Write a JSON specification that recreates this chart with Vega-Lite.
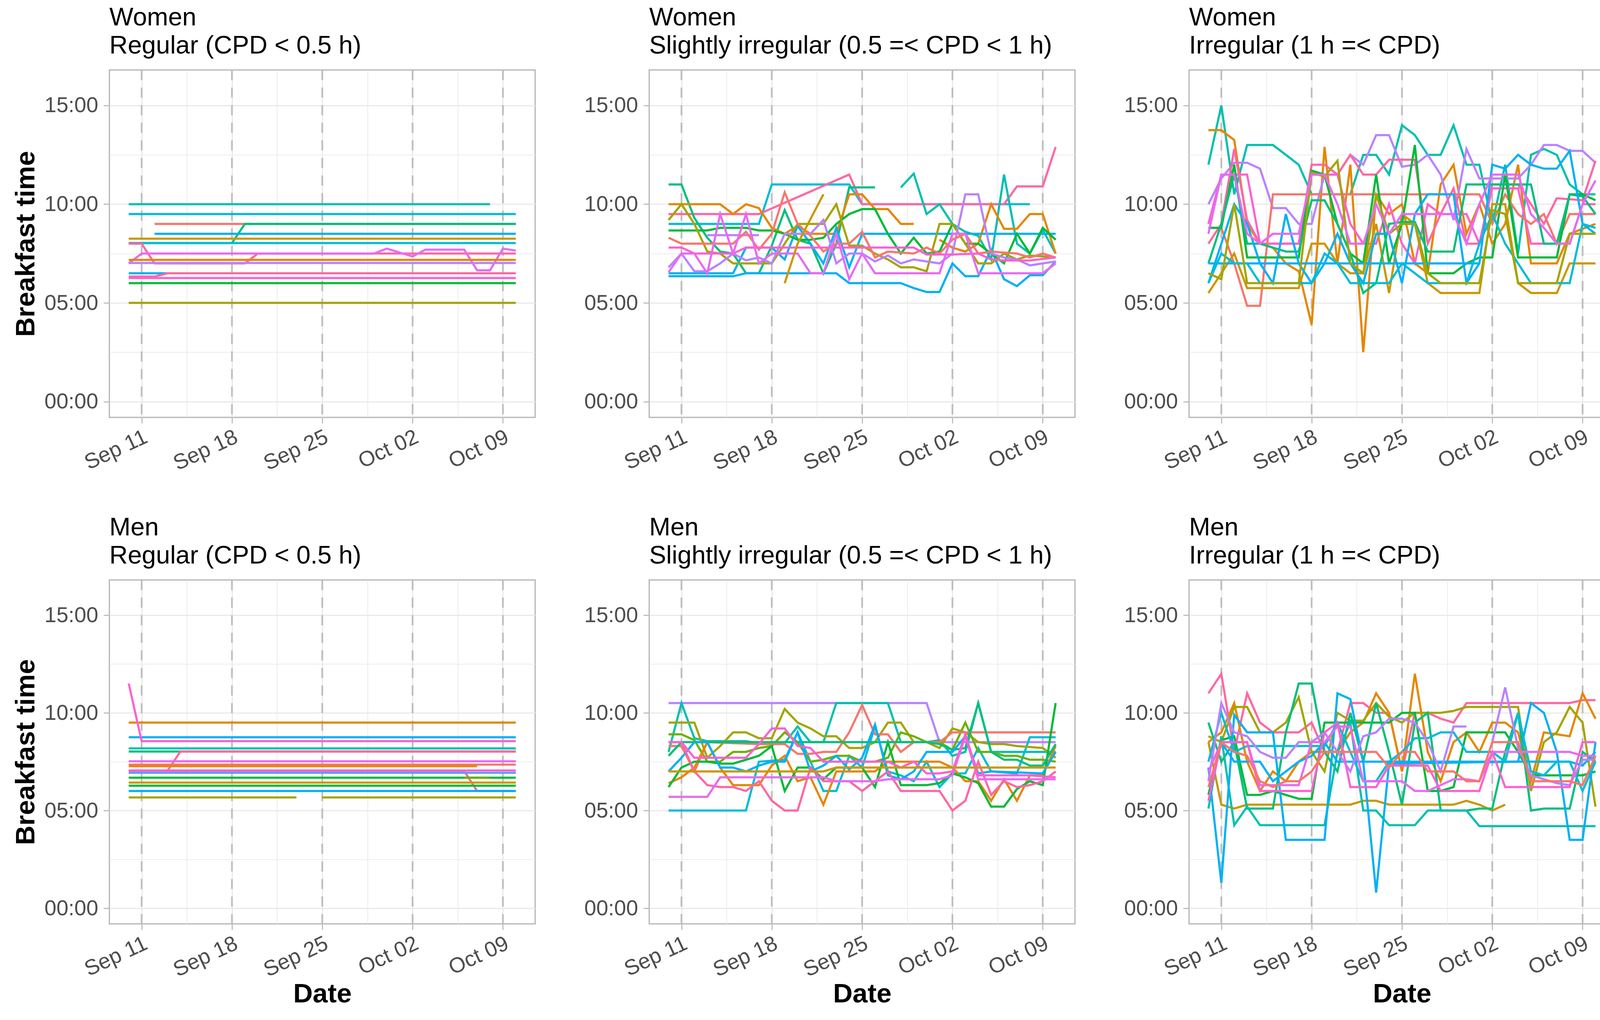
{
  "$schema": "https://vega.github.io/schema/vega-lite/v6.json",
  "background": "white",
  "padding": {"left": 30, "top": 11, "right": 10, "bottom": 10},
  "datasets": {
    "weeks": [{"d": "2023-09-11"}, {"d": "2023-09-18"}, {"d": "2023-09-25"}, {"d": "2023-10-02"}, {"d": "2023-10-09"}],
    "wr": [
      {"s":"h","d":"2023-09-10","t":10},{"s":"h","d":"2023-10-08","t":10},
      {"s":"i","d":"2023-09-10","t":9.5},{"s":"i","d":"2023-10-10","t":9.5},
      {"s":"a","d":"2023-09-12","t":9},{"s":"a","d":"2023-10-10","t":9},
      {"s":"g","d":"2023-09-10","t":8.03},{"s":"g","d":"2023-09-18","t":8.03},{"s":"g","d":"2023-09-19","t":9},{"s":"g","d":"2023-10-10","t":9},
      {"s":"j","d":"2023-09-12","t":8.5},{"s":"j","d":"2023-10-10","t":8.5},
      {"s":"c","d":"2023-09-10","t":8.25},{"s":"c","d":"2023-10-10","t":8.25},
      {"s":"i2","d":"2023-09-10","t":8.03},{"s":"i2","d":"2023-10-10","t":8.03},
      {"s":"o","d":"2023-09-10","t":8},{"s":"o","d":"2023-09-11","t":8},{"s":"o","d":"2023-09-12","t":7},{"s":"o","d":"2023-09-19","t":7},{"s":"o","d":"2023-09-20","t":7.5},{"s":"o","d":"2023-10-10","t":7.5},
      {"s":"m","d":"2023-09-10","t":7},{"s":"m","d":"2023-09-11","t":7.5},{"s":"m","d":"2023-09-29","t":7.5},{"s":"m","d":"2023-09-30","t":7.75},{"s":"m","d":"2023-10-02","t":7.35},{"s":"m","d":"2023-10-03","t":7.7},{"s":"m","d":"2023-10-06","t":7.7},{"s":"m","d":"2023-10-07","t":6.65},{"s":"m","d":"2023-10-08","t":6.65},{"s":"m","d":"2023-10-09","t":7.75},{"s":"m","d":"2023-10-10","t":7.65},
      {"s":"b","d":"2023-09-10","t":7.18},{"s":"b","d":"2023-10-10","t":7.18},
      {"s":"l","d":"2023-09-10","t":7.02},{"s":"l","d":"2023-10-10","t":7.02},
      {"s":"j2","d":"2023-09-10","t":6.5},{"s":"j2","d":"2023-09-13","t":6.5},
      {"s":"o2","d":"2023-09-10","t":6.33},{"s":"o2","d":"2023-09-12","t":6.33},{"s":"o2","d":"2023-09-13","t":6.5},{"s":"o2","d":"2023-10-10","t":6.5},
      {"s":"n","d":"2023-09-10","t":6.26},{"s":"n","d":"2023-10-10","t":6.26},
      {"s":"f","d":"2023-09-10","t":6},{"s":"f","d":"2023-10-10","t":6},
      {"s":"d","d":"2023-09-10","t":5},{"s":"d","d":"2023-10-10","t":5}
    ],
    "mr": [
      {"s":"b","d":"2023-09-10","t":9.5},{"s":"b","d":"2023-10-10","t":9.5},
      {"s":"j","d":"2023-09-10","t":8.75},{"s":"j","d":"2023-10-10","t":8.75},
      {"s":"h","d":"2023-09-10","t":8.18},{"s":"h","d":"2023-10-10","t":8.18},
      {"s":"g","d":"2023-09-10","t":8.02},{"s":"g","d":"2023-10-10","t":8.02},
      {"s":"n","d":"2023-09-10","t":11.5},{"s":"n","d":"2023-09-11","t":8.55},{"s":"n","d":"2023-10-10","t":8.55},
      {"s":"o","d":"2023-09-10","t":7.02},{"s":"o","d":"2023-09-13","t":7.02},{"s":"o","d":"2023-09-14","t":8.02},{"s":"o","d":"2023-10-10","t":8.02},
      {"s":"m","d":"2023-09-10","t":7.52},{"s":"m","d":"2023-10-10","t":7.52},
      {"s":"a","d":"2023-09-10","t":7.35},{"s":"a","d":"2023-10-10","t":7.35},
      {"s":"b2","d":"2023-09-10","t":7.27},{"s":"b2","d":"2023-10-07","t":7.27},
      {"s":"o2","d":"2023-09-10","t":7.02},{"s":"o2","d":"2023-10-06","t":7.02},{"s":"o2","d":"2023-10-07","t":6},{"s":"o2","d":"2023-10-10","t":6},
      {"s":"n2","d":"2023-09-10","t":7.05},{"s":"n2","d":"2023-10-10","t":7.05},
      {"s":"k","d":"2023-09-10","t":6.93},{"s":"k","d":"2023-10-10","t":6.93},
      {"s":"f","d":"2023-09-10","t":6.68},{"s":"f","d":"2023-10-10","t":6.68},
      {"s":"e","d":"2023-10-06","t":6.68},{"s":"e","d":"2023-10-08","t":6.68},
      {"s":"c","d":"2023-09-10","t":6.43},{"s":"c","d":"2023-10-10","t":6.43},
      {"s":"f2","d":"2023-09-10","t":6.27},{"s":"f2","d":"2023-10-10","t":6.27},
      {"s":"j2","d":"2023-09-10","t":6},{"s":"j2","d":"2023-10-10","t":6},
      {"s":"d","d":"2023-09-10","t":5.67},{"s":"d","d":"2023-09-23","t":5.67},
      {"s":"d2","d":"2023-09-25","t":5.67},{"s":"d2","d":"2023-10-10","t":5.67}
    ],
    "ws": [
      {"s":"i","d":"2023-09-10","t":9},{"s":"i","d":"2023-09-17","t":9},{"s":"i","d":"2023-09-18","t":11},{"s":"i","d":"2023-09-24","t":11},{"s":"i","d":"2023-09-25","t":10},{"s":"i","d":"2023-10-08","t":10},
      {"s":"o","d":"2023-09-10","t":9.5},{"s":"o","d":"2023-09-17","t":9.5},{"s":"o","d":"2023-09-24","t":11.5},{"s":"o","d":"2023-09-25","t":10},{"s":"o","d":"2023-10-06","t":10},{"s":"o","d":"2023-10-07","t":10.9},{"s":"o","d":"2023-10-09","t":10.9},{"s":"o","d":"2023-10-10","t":12.9},
      {"s":"g","d":"2023-09-10","t":11},{"s":"g","d":"2023-09-11","t":11},{"s":"g","d":"2023-09-12","t":9.3},{"s":"g","d":"2023-09-13","t":8.3},{"s":"g","d":"2023-09-14","t":7.6},{"s":"g","d":"2023-09-15","t":7.5},{"s":"g","d":"2023-09-16","t":6.5},{"s":"g","d":"2023-09-17","t":6.5},{"s":"g","d":"2023-09-18","t":7.9},{"s":"g","d":"2023-09-19","t":9.7},{"s":"g","d":"2023-09-20","t":8.2},{"s":"g","d":"2023-09-21","t":8},{"s":"g","d":"2023-09-22","t":6.5},{"s":"g","d":"2023-09-23","t":8},{"s":"g","d":"2023-09-24","t":10.85},{"s":"g","d":"2023-09-26","t":10.85},
      {"s":"h","d":"2023-09-28","t":10.85},{"s":"h","d":"2023-09-29","t":11.55},{"s":"h","d":"2023-09-30","t":9.5},{"s":"h","d":"2023-10-01","t":10},{"s":"h","d":"2023-10-02","t":9},{"s":"h","d":"2023-10-03","t":8.6},{"s":"h","d":"2023-10-04","t":8.4},{"s":"h","d":"2023-10-05","t":7.2},{"s":"h","d":"2023-10-06","t":11.5},{"s":"h","d":"2023-10-07","t":8},{"s":"h","d":"2023-10-08","t":7.5},{"s":"h","d":"2023-10-09","t":8.7},{"s":"h","d":"2023-10-10","t":7.5},
      {"s":"b","d":"2023-09-10","t":10},{"s":"b","d":"2023-09-14","t":10},{"s":"b","d":"2023-09-15","t":9.5},{"s":"b","d":"2023-09-16","t":10},{"s":"b","d":"2023-09-17","t":9.8},{"s":"b","d":"2023-09-18","t":8.8},{"s":"b","d":"2023-09-19","t":8.5},{"s":"b","d":"2023-09-20","t":8.9},{"s":"b","d":"2023-09-21","t":8.5},{"s":"b","d":"2023-09-23","t":8.5},{"s":"b","d":"2023-09-24","t":10.5},{"s":"b","d":"2023-09-25","t":10.5},{"s":"b","d":"2023-09-26","t":9.75},{"s":"b","d":"2023-09-27","t":9.75},{"s":"b","d":"2023-09-28","t":9},{"s":"b","d":"2023-09-29","t":9},
      {"s":"b2","d":"2023-10-01","t":8.2},{"s":"b2","d":"2023-10-02","t":7.8},{"s":"b2","d":"2023-10-03","t":7.6},{"s":"b2","d":"2023-10-04","t":8},{"s":"b2","d":"2023-10-05","t":10},{"s":"b2","d":"2023-10-06","t":8.75},{"s":"b2","d":"2023-10-07","t":8.75},{"s":"b2","d":"2023-10-08","t":9.5},{"s":"b2","d":"2023-10-09","t":9.5},{"s":"b2","d":"2023-10-10","t":7.5},
      {"s":"j","d":"2023-09-10","t":6.35},{"s":"j","d":"2023-09-15","t":6.35},{"s":"j","d":"2023-09-16","t":6.5},{"s":"j","d":"2023-09-23","t":6.5},{"s":"j","d":"2023-09-24","t":6},{"s":"j","d":"2023-09-28","t":6},{"s":"j","d":"2023-09-29","t":5.75},{"s":"j","d":"2023-09-30","t":5.55},{"s":"j","d":"2023-10-01","t":5.55},{"s":"j","d":"2023-10-02","t":7},{"s":"j","d":"2023-10-03","t":6.35},{"s":"j","d":"2023-10-04","t":6.35},{"s":"j","d":"2023-10-05","t":7.7},{"s":"j","d":"2023-10-06","t":6.2},{"s":"j","d":"2023-10-07","t":5.85},{"s":"j","d":"2023-10-08","t":6.4},{"s":"j","d":"2023-10-09","t":6.4},{"s":"j","d":"2023-10-10","t":7.1},
      {"s":"j2","d":"2023-09-10","t":6.5},{"s":"j2","d":"2023-09-15","t":6.5},{"s":"j2","d":"2023-09-16","t":7.8},{"s":"j2","d":"2023-09-18","t":7.8},{"s":"j2","d":"2023-09-19","t":7.2},{"s":"j2","d":"2023-09-20","t":8.9},{"s":"j2","d":"2023-09-21","t":8},{"s":"j2","d":"2023-09-22","t":7},{"s":"j2","d":"2023-09-23","t":8.8},{"s":"j2","d":"2023-09-24","t":6.8},{"s":"j2","d":"2023-09-25","t":8.5},{"s":"j2","d":"2023-10-10","t":8.5},
      {"s":"f","d":"2023-09-10","t":8.67},{"s":"f","d":"2023-09-13","t":8.67},{"s":"f","d":"2023-09-14","t":8.8},{"s":"f","d":"2023-09-16","t":8.8},{"s":"f","d":"2023-09-17","t":8.67},{"s":"f","d":"2023-09-18","t":8.67},{"s":"f","d":"2023-09-19","t":8.5},{"s":"f","d":"2023-09-20","t":8.2},{"s":"f","d":"2023-09-21","t":8.2},{"s":"f","d":"2023-09-22","t":8.3},{"s":"f","d":"2023-09-23","t":9},{"s":"f","d":"2023-09-24","t":9.5},{"s":"f","d":"2023-09-25","t":9.75},{"s":"f","d":"2023-09-26","t":9.75},{"s":"f","d":"2023-09-27","t":8.5},{"s":"f","d":"2023-09-28","t":7.5},{"s":"f","d":"2023-09-29","t":8.3},{"s":"f","d":"2023-09-30","t":7.5},{"s":"f","d":"2023-10-01","t":7.6},{"s":"f","d":"2023-10-02","t":9},{"s":"f","d":"2023-10-03","t":8},{"s":"f","d":"2023-10-04","t":8},{"s":"f","d":"2023-10-05","t":7.5},{"s":"f","d":"2023-10-06","t":7},{"s":"f","d":"2023-10-07","t":8.5},{"s":"f","d":"2023-10-08","t":7.5},{"s":"f","d":"2023-10-09","t":8.8},{"s":"f","d":"2023-10-10","t":8.2},
      {"s":"d","d":"2023-09-10","t":9.2},{"s":"d","d":"2023-09-11","t":10},{"s":"d","d":"2023-09-12","t":9},{"s":"d","d":"2023-09-13","t":7.6},{"s":"d","d":"2023-09-14","t":7.5},{"s":"d","d":"2023-09-15","t":7},{"s":"d","d":"2023-09-18","t":7},{"s":"d","d":"2023-09-19","t":8},{"s":"d","d":"2023-09-20","t":9},{"s":"d","d":"2023-09-22","t":9},{"s":"d","d":"2023-09-23","t":10},{"s":"d","d":"2023-09-24","t":7.9},{"s":"d","d":"2023-09-25","t":7.9},{"s":"d","d":"2023-09-26","t":7.5},{"s":"d","d":"2023-09-27","t":7.2},{"s":"d","d":"2023-09-28","t":6.8},{"s":"d","d":"2023-09-29","t":6.8},{"s":"d","d":"2023-09-30","t":6.6},{"s":"d","d":"2023-10-01","t":9},{"s":"d","d":"2023-10-02","t":9},{"s":"d","d":"2023-10-03","t":8},{"s":"d","d":"2023-10-04","t":7},{"s":"d","d":"2023-10-05","t":7},{"s":"d","d":"2023-10-06","t":7.5},{"s":"d","d":"2023-10-07","t":7.2},{"s":"d","d":"2023-10-08","t":7.4},{"s":"d","d":"2023-10-10","t":7.3},
      {"s":"l","d":"2023-09-10","t":6.8},{"s":"l","d":"2023-09-11","t":7.5},{"s":"l","d":"2023-09-12","t":6.6},{"s":"l","d":"2023-09-13","t":6.6},{"s":"l","d":"2023-09-14","t":7},{"s":"l","d":"2023-09-15","t":7.5},{"s":"l","d":"2023-09-16","t":7.15},{"s":"l","d":"2023-09-17","t":7.3},{"s":"l","d":"2023-09-18","t":7},{"s":"l","d":"2023-09-19","t":8.5},{"s":"l","d":"2023-09-21","t":8.5},{"s":"l","d":"2023-09-22","t":9.2},{"s":"l","d":"2023-09-23","t":7},{"s":"l","d":"2023-09-24","t":7.5},{"s":"l","d":"2023-09-25","t":7.5},{"s":"l","d":"2023-09-26","t":7.1},{"s":"l","d":"2023-09-27","t":7.4},{"s":"l","d":"2023-09-28","t":7},{"s":"l","d":"2023-09-29","t":7.2},{"s":"l","d":"2023-09-30","t":7.1},{"s":"l","d":"2023-10-01","t":7},{"s":"l","d":"2023-10-02","t":7.5},{"s":"l","d":"2023-10-03","t":10.5},{"s":"l","d":"2023-10-04","t":10.5},{"s":"l","d":"2023-10-05","t":7.5},{"s":"l","d":"2023-10-06","t":7.3},{"s":"l","d":"2023-10-07","t":7.2},{"s":"l","d":"2023-10-08","t":6.9},{"s":"l","d":"2023-10-09","t":7},{"s":"l","d":"2023-10-10","t":7.1},
      {"s":"l2","d":"2023-09-13","t":8.43},{"s":"l2","d":"2023-09-17","t":8.43},
      {"s":"a","d":"2023-09-10","t":8.3},{"s":"a","d":"2023-09-11","t":8},{"s":"a","d":"2023-09-15","t":8},{"s":"a","d":"2023-09-16","t":8.6},{"s":"a","d":"2023-09-17","t":7.7},{"s":"a","d":"2023-09-18","t":8.5},{"s":"a","d":"2023-09-19","t":10.6},{"s":"a","d":"2023-09-20","t":9},{"s":"a","d":"2023-09-21","t":8.4},{"s":"a","d":"2023-09-22","t":7.6},{"s":"a","d":"2023-09-23","t":8},{"s":"a","d":"2023-09-24","t":8},{"s":"a","d":"2023-09-25","t":8.6},{"s":"a","d":"2023-09-26","t":7.3},{"s":"a","d":"2023-09-27","t":7.6},{"s":"a","d":"2023-09-29","t":7.5},{"s":"a","d":"2023-09-30","t":7.8},{"s":"a","d":"2023-10-01","t":7.5},{"s":"a","d":"2023-10-02","t":8.2},{"s":"a","d":"2023-10-03","t":8.5},{"s":"a","d":"2023-10-04","t":7.5},{"s":"a","d":"2023-10-05","t":7.6},{"s":"a","d":"2023-10-07","t":7.5},{"s":"a","d":"2023-10-08","t":7.3},{"s":"a","d":"2023-10-09","t":7.5},{"s":"a","d":"2023-10-10","t":7.3},
      {"s":"n","d":"2023-09-10","t":7.8},{"s":"n","d":"2023-09-11","t":7.8},{"s":"n","d":"2023-09-12","t":7.5},{"s":"n","d":"2023-09-15","t":7.5},{"s":"n","d":"2023-09-16","t":7.8},{"s":"n","d":"2023-09-29","t":7.8},{"s":"n","d":"2023-09-30","t":7.45},{"s":"n","d":"2023-10-02","t":7.45},{"s":"n","d":"2023-10-04","t":7.5},{"s":"n","d":"2023-10-05","t":7.2},{"s":"n","d":"2023-10-06","t":7.15},{"s":"n","d":"2023-10-08","t":7.15},{"s":"n","d":"2023-10-10","t":7.3},
      {"s":"m","d":"2023-09-10","t":6.55},{"s":"m","d":"2023-09-11","t":7.5},{"s":"m","d":"2023-09-12","t":7.5},{"s":"m","d":"2023-09-13","t":6.5},{"s":"m","d":"2023-09-14","t":9.5},{"s":"m","d":"2023-09-15","t":7.5},{"s":"m","d":"2023-09-16","t":9.5},{"s":"m","d":"2023-09-17","t":7},{"s":"m","d":"2023-09-18","t":7.5},{"s":"m","d":"2023-09-20","t":7.5},{"s":"m","d":"2023-09-21","t":6.5},{"s":"m","d":"2023-09-22","t":6.5},{"s":"m","d":"2023-09-23","t":8.5},{"s":"m","d":"2023-09-24","t":6.2},{"s":"m","d":"2023-09-25","t":7.5},{"s":"m","d":"2023-09-26","t":6.5},{"s":"m","d":"2023-10-01","t":6.5},{"s":"m","d":"2023-10-02","t":8.5},{"s":"m","d":"2023-10-03","t":8.5},{"s":"m","d":"2023-10-04","t":6.5},{"s":"m","d":"2023-10-09","t":6.5},{"s":"m","d":"2023-10-10","t":7},
      {"s":"c","d":"2023-09-19","t":6},{"s":"c","d":"2023-09-20","t":8},{"s":"c","d":"2023-09-22","t":10.5}
    ],
    "ms": [
      {"s":"l","d":"2023-09-10","t":10.5},{"s":"l","d":"2023-09-30","t":10.5},{"s":"l","d":"2023-10-01","t":8.5},{"s":"l","d":"2023-10-10","t":8.5},
      {"s":"h","d":"2023-09-10","t":8},{"s":"h","d":"2023-09-11","t":10.5},{"s":"h","d":"2023-09-12","t":8.7},{"s":"h","d":"2023-09-13","t":8.55},{"s":"h","d":"2023-09-16","t":8.55},{"s":"h","d":"2023-09-17","t":8.45},{"s":"h","d":"2023-09-19","t":8.45},{"s":"h","d":"2023-09-20","t":9.3},{"s":"h","d":"2023-09-21","t":8.5},{"s":"h","d":"2023-09-22","t":8.5},{"s":"h","d":"2023-09-23","t":10.5},{"s":"h","d":"2023-09-27","t":10.5},{"s":"h","d":"2023-09-28","t":8.5},{"s":"h","d":"2023-09-30","t":8.5},{"s":"h","d":"2023-10-01","t":8.6},{"s":"h","d":"2023-10-02","t":7.8},{"s":"h","d":"2023-10-03","t":8},{"s":"h","d":"2023-10-04","t":10.5},{"s":"h","d":"2023-10-05","t":8},{"s":"h","d":"2023-10-10","t":8},
      {"s":"i","d":"2023-09-10","t":5},{"s":"i","d":"2023-09-16","t":5},{"s":"i","d":"2023-09-17","t":7.5},{"s":"i","d":"2023-09-19","t":7.6},{"s":"i","d":"2023-09-20","t":9},{"s":"i","d":"2023-09-21","t":7.5},{"s":"i","d":"2023-09-22","t":6},{"s":"i","d":"2023-09-23","t":6},{"s":"i","d":"2023-09-24","t":7.8},{"s":"i","d":"2023-09-25","t":7.2},{"s":"i","d":"2023-09-26","t":9.3},{"s":"i","d":"2023-09-27","t":7},{"s":"i","d":"2023-09-28","t":6.8},{"s":"i","d":"2023-09-29","t":6.5},{"s":"i","d":"2023-09-30","t":7.5},{"s":"i","d":"2023-10-01","t":6.2},{"s":"i","d":"2023-10-02","t":6.9},{"s":"i","d":"2023-10-03","t":6.9},{"s":"i","d":"2023-10-04","t":8.2},{"s":"i","d":"2023-10-05","t":7},{"s":"i","d":"2023-10-07","t":6.9},{"s":"i","d":"2023-10-08","t":8.75},{"s":"i","d":"2023-10-10","t":8.75},
      {"s":"d","d":"2023-09-10","t":9.5},{"s":"d","d":"2023-09-12","t":9.5},{"s":"d","d":"2023-09-13","t":7.7},{"s":"d","d":"2023-09-14","t":8.3},{"s":"d","d":"2023-09-15","t":9},{"s":"d","d":"2023-09-16","t":9},{"s":"d","d":"2023-09-17","t":8.7},{"s":"d","d":"2023-09-18","t":8.7},{"s":"d","d":"2023-09-19","t":10.2},{"s":"d","d":"2023-09-20","t":9.5},{"s":"d","d":"2023-09-21","t":9.2},{"s":"d","d":"2023-09-22","t":8.8},{"s":"d","d":"2023-09-23","t":8.8},{"s":"d","d":"2023-09-24","t":8.2},{"s":"d","d":"2023-09-25","t":8.2},{"s":"d","d":"2023-09-26","t":8.5},{"s":"d","d":"2023-09-27","t":9.5},{"s":"d","d":"2023-09-28","t":9.5},{"s":"d","d":"2023-09-29","t":8.5},{"s":"d","d":"2023-09-30","t":8.5},{"s":"d","d":"2023-10-01","t":8.2},{"s":"d","d":"2023-10-02","t":9.2},{"s":"d","d":"2023-10-03","t":9},{"s":"d","d":"2023-10-04","t":8.5},{"s":"d","d":"2023-10-05","t":8.4},{"s":"d","d":"2023-10-06","t":8.4},{"s":"d","d":"2023-10-07","t":8.3},{"s":"d","d":"2023-10-09","t":8.2},{"s":"d","d":"2023-10-10","t":7.7},
      {"s":"e","d":"2023-09-10","t":8.9},{"s":"e","d":"2023-09-11","t":8.9},{"s":"e","d":"2023-09-12","t":8.6},{"s":"e","d":"2023-09-13","t":7.5},{"s":"e","d":"2023-09-14","t":7.5},{"s":"e","d":"2023-09-15","t":8},{"s":"e","d":"2023-09-16","t":8},{"s":"e","d":"2023-09-17","t":8.2},{"s":"e","d":"2023-09-18","t":8.3},{"s":"e","d":"2023-09-19","t":9},{"s":"e","d":"2023-09-20","t":8.5},{"s":"e","d":"2023-09-21","t":7.5},{"s":"e","d":"2023-09-22","t":7.6},{"s":"e","d":"2023-09-23","t":7.8},{"s":"e","d":"2023-09-24","t":7.8},{"s":"e","d":"2023-09-25","t":7.5},{"s":"e","d":"2023-09-26","t":7.5},{"s":"e","d":"2023-09-27","t":7.7},{"s":"e","d":"2023-09-28","t":9},{"s":"e","d":"2023-09-29","t":8.8},{"s":"e","d":"2023-09-30","t":8.5},{"s":"e","d":"2023-10-01","t":8.5},{"s":"e","d":"2023-10-02","t":8.1},{"s":"e","d":"2023-10-03","t":9.5},{"s":"e","d":"2023-10-04","t":8},{"s":"e","d":"2023-10-05","t":8},{"s":"e","d":"2023-10-06","t":7.8},{"s":"e","d":"2023-10-07","t":7.8},{"s":"e","d":"2023-10-08","t":7.6},{"s":"e","d":"2023-10-09","t":7.6},{"s":"e","d":"2023-10-10","t":7.5},
      {"s":"a","d":"2023-09-10","t":8.3},{"s":"a","d":"2023-09-11","t":8.3},{"s":"a","d":"2023-09-12","t":7},{"s":"a","d":"2023-09-13","t":8.5},{"s":"a","d":"2023-09-17","t":8.4},{"s":"a","d":"2023-09-19","t":8.4},{"s":"a","d":"2023-09-20","t":7.9},{"s":"a","d":"2023-09-21","t":7.9},{"s":"a","d":"2023-09-22","t":8},{"s":"a","d":"2023-09-23","t":8},{"s":"a","d":"2023-09-24","t":9},{"s":"a","d":"2023-09-25","t":10.4},{"s":"a","d":"2023-09-26","t":8.9},{"s":"a","d":"2023-09-27","t":8.9},{"s":"a","d":"2023-09-28","t":8},{"s":"a","d":"2023-09-29","t":8.5},{"s":"a","d":"2023-10-01","t":8.5},{"s":"a","d":"2023-10-02","t":9},{"s":"a","d":"2023-10-10","t":9},
      {"s":"b","d":"2023-09-10","t":6.4},{"s":"b","d":"2023-09-11","t":6.7},{"s":"b","d":"2023-09-12","t":7.2},{"s":"b","d":"2023-09-13","t":8.5},{"s":"b","d":"2023-09-14","t":7.2},{"s":"b","d":"2023-09-15","t":6.3},{"s":"b","d":"2023-09-17","t":6.3},{"s":"b","d":"2023-09-18","t":7.3},{"s":"b","d":"2023-09-19","t":7.8},{"s":"b","d":"2023-09-20","t":6.5},{"s":"b","d":"2023-09-21","t":6.7},{"s":"b","d":"2023-09-22","t":5.3},{"s":"b","d":"2023-09-23","t":7},{"s":"b","d":"2023-09-26","t":7},{"s":"b","d":"2023-09-27","t":7.5},{"s":"b","d":"2023-10-01","t":7.5},{"s":"b","d":"2023-10-02","t":7.2},{"s":"b","d":"2023-10-03","t":6.5},{"s":"b","d":"2023-10-04","t":6.5},{"s":"b","d":"2023-10-05","t":5.5},{"s":"b","d":"2023-10-06","t":6.6},{"s":"b","d":"2023-10-07","t":5.5},{"s":"b","d":"2023-10-08","t":6.8},{"s":"b","d":"2023-10-09","t":6.8},{"s":"b","d":"2023-10-10","t":8.3},
      {"s":"f","d":"2023-09-10","t":6.2},{"s":"f","d":"2023-09-11","t":7.2},{"s":"f","d":"2023-09-12","t":7.5},{"s":"f","d":"2023-09-13","t":7.5},{"s":"f","d":"2023-09-14","t":7.4},{"s":"f","d":"2023-09-15","t":7.4},{"s":"f","d":"2023-09-16","t":7.6},{"s":"f","d":"2023-09-17","t":7.8},{"s":"f","d":"2023-09-18","t":8.3},{"s":"f","d":"2023-09-19","t":6},{"s":"f","d":"2023-09-20","t":7.2},{"s":"f","d":"2023-09-21","t":7.2},{"s":"f","d":"2023-09-22","t":6.6},{"s":"f","d":"2023-09-23","t":7.2},{"s":"f","d":"2023-09-25","t":7.2},{"s":"f","d":"2023-09-26","t":6.2},{"s":"f","d":"2023-09-27","t":8.5},{"s":"f","d":"2023-09-28","t":6.3},{"s":"f","d":"2023-09-30","t":6.3},{"s":"f","d":"2023-10-01","t":6.4},{"s":"f","d":"2023-10-02","t":6.9},{"s":"f","d":"2023-10-03","t":6.7},{"s":"f","d":"2023-10-04","t":6.4},{"s":"f","d":"2023-10-05","t":5.2},{"s":"f","d":"2023-10-06","t":5.2},{"s":"f","d":"2023-10-07","t":6.1},{"s":"f","d":"2023-10-08","t":6.5},{"s":"f","d":"2023-10-09","t":6.3},{"s":"f","d":"2023-10-10","t":10.5},
      {"s":"g","d":"2023-09-10","t":7.8},{"s":"g","d":"2023-09-11","t":8.5},{"s":"g","d":"2023-09-30","t":8.5},{"s":"g","d":"2023-10-01","t":8.4},{"s":"g","d":"2023-10-02","t":8.1},{"s":"g","d":"2023-10-03","t":8.2},{"s":"g","d":"2023-10-04","t":10.5},{"s":"g","d":"2023-10-05","t":8},{"s":"g","d":"2023-10-06","t":7.6},{"s":"g","d":"2023-10-07","t":7.6},{"s":"g","d":"2023-10-08","t":7.3},{"s":"g","d":"2023-10-09","t":7.3},{"s":"g","d":"2023-10-10","t":8.4},
      {"s":"j","d":"2023-09-10","t":7},{"s":"j","d":"2023-09-11","t":7.7},{"s":"j","d":"2023-09-12","t":8.5},{"s":"j","d":"2023-09-13","t":8.5},{"s":"j","d":"2023-09-14","t":7.2},{"s":"j","d":"2023-09-15","t":7.2},{"s":"j","d":"2023-09-16","t":7},{"s":"j","d":"2023-09-17","t":7.3},{"s":"j","d":"2023-09-18","t":7.5},{"s":"j","d":"2023-09-19","t":7.5},{"s":"j","d":"2023-09-20","t":9},{"s":"j","d":"2023-09-21","t":7},{"s":"j","d":"2023-09-22","t":7.3},{"s":"j","d":"2023-09-23","t":7.8},{"s":"j","d":"2023-09-24","t":7.1},{"s":"j","d":"2023-09-25","t":7.7},{"s":"j","d":"2023-09-26","t":9.4},{"s":"j","d":"2023-09-27","t":6.8},{"s":"j","d":"2023-09-28","t":6.6},{"s":"j","d":"2023-09-29","t":7},{"s":"j","d":"2023-09-30","t":8},{"s":"j","d":"2023-10-02","t":8},{"s":"j","d":"2023-10-03","t":8.8},{"s":"j","d":"2023-10-04","t":6.9},{"s":"j","d":"2023-10-05","t":7},{"s":"j","d":"2023-10-09","t":6.9},{"s":"j","d":"2023-10-10","t":8},
      {"s":"o","d":"2023-09-10","t":8.5},{"s":"o","d":"2023-09-11","t":8.5},{"s":"o","d":"2023-09-12","t":7},{"s":"o","d":"2023-09-13","t":6.3},{"s":"o","d":"2023-09-14","t":6.2},{"s":"o","d":"2023-09-15","t":6.2},{"s":"o","d":"2023-09-16","t":6},{"s":"o","d":"2023-09-17","t":6.5},{"s":"o","d":"2023-09-18","t":5.5},{"s":"o","d":"2023-09-19","t":5},{"s":"o","d":"2023-09-20","t":5},{"s":"o","d":"2023-09-21","t":7.2},{"s":"o","d":"2023-09-22","t":6.5},{"s":"o","d":"2023-09-24","t":6.5},{"s":"o","d":"2023-09-25","t":6},{"s":"o","d":"2023-09-26","t":6.5},{"s":"o","d":"2023-09-27","t":7},{"s":"o","d":"2023-09-28","t":6},{"s":"o","d":"2023-10-01","t":6},{"s":"o","d":"2023-10-02","t":5},{"s":"o","d":"2023-10-03","t":5.5},{"s":"o","d":"2023-10-04","t":7.5},{"s":"o","d":"2023-10-05","t":5.8},{"s":"o","d":"2023-10-06","t":6.5},{"s":"o","d":"2023-10-07","t":6.2},{"s":"o","d":"2023-10-08","t":6.3},{"s":"o","d":"2023-10-09","t":6.5},{"s":"o","d":"2023-10-10","t":7},
      {"s":"m","d":"2023-09-10","t":5.7},{"s":"m","d":"2023-09-13","t":5.7},{"s":"m","d":"2023-09-14","t":6.7},{"s":"m","d":"2023-09-22","t":6.7},{"s":"m","d":"2023-09-23","t":6.5},{"s":"m","d":"2023-09-26","t":6.5},{"s":"m","d":"2023-09-27","t":6.6},{"s":"m","d":"2023-10-01","t":6.6},{"s":"m","d":"2023-10-02","t":6.8},{"s":"m","d":"2023-10-03","t":8.8},{"s":"m","d":"2023-10-04","t":6.6},{"s":"m","d":"2023-10-10","t":6.6},
      {"s":"n","d":"2023-09-10","t":8.5},{"s":"n","d":"2023-09-11","t":8.5},{"s":"n","d":"2023-09-12","t":7.7},{"s":"n","d":"2023-09-16","t":7.7},{"s":"n","d":"2023-09-17","t":8.4},{"s":"n","d":"2023-09-18","t":9.2},{"s":"n","d":"2023-09-19","t":9.2},{"s":"n","d":"2023-09-20","t":8.3},{"s":"n","d":"2023-09-21","t":8.2},{"s":"n","d":"2023-09-22","t":7.5},{"s":"n","d":"2023-09-27","t":7.5},{"s":"n","d":"2023-09-28","t":7.2},{"s":"n","d":"2023-09-29","t":7.5},{"s":"n","d":"2023-09-30","t":6.9},{"s":"n","d":"2023-10-01","t":6.9},{"s":"n","d":"2023-10-02","t":7},{"s":"n","d":"2023-10-03","t":8.9},{"s":"n","d":"2023-10-04","t":6.8},{"s":"n","d":"2023-10-08","t":6.8},{"s":"n","d":"2023-10-10","t":6.7},
      {"s":"c","d":"2023-09-10","t":7},{"s":"c","d":"2023-09-22","t":7},{"s":"c","d":"2023-09-23","t":7.2},{"s":"c","d":"2023-10-10","t":7.2}
    ],
    "wi": [
      {"s":"h","d":"2023-09-10","t":12},{"s":"h","d":"2023-09-11","t":15},{"s":"h","d":"2023-09-12","t":10.5},{"s":"h","d":"2023-09-13","t":13},{"s":"h","d":"2023-09-15","t":13},{"s":"h","d":"2023-09-17","t":12},{"s":"h","d":"2023-09-18","t":10.5},{"s":"h","d":"2023-09-21","t":10.5},{"s":"h","d":"2023-09-22","t":12.5},{"s":"h","d":"2023-09-23","t":12.5},{"s":"h","d":"2023-09-24","t":11.5},{"s":"h","d":"2023-09-25","t":14},{"s":"h","d":"2023-09-26","t":13.5},{"s":"h","d":"2023-09-27","t":12.5},{"s":"h","d":"2023-09-28","t":12.5},{"s":"h","d":"2023-09-29","t":14},{"s":"h","d":"2023-09-30","t":12},{"s":"h","d":"2023-10-01","t":12},{"s":"h","d":"2023-10-02","t":9},{"s":"h","d":"2023-10-03","t":12},{"s":"h","d":"2023-10-04","t":7.5},{"s":"h","d":"2023-10-05","t":12.5},{"s":"h","d":"2023-10-06","t":12.8},{"s":"h","d":"2023-10-07","t":12.5},{"s":"h","d":"2023-10-08","t":11},{"s":"h","d":"2023-10-09","t":10.5},{"s":"h","d":"2023-10-10","t":10.5},
      {"s":"b","d":"2023-09-10","t":13.75},{"s":"b","d":"2023-09-11","t":13.75},{"s":"b","d":"2023-09-12","t":13.25},{"s":"b","d":"2023-09-13","t":9},{"s":"b","d":"2023-09-14","t":8},{"s":"b","d":"2023-09-15","t":7.8},{"s":"b","d":"2023-09-16","t":7},{"s":"b","d":"2023-09-17","t":6.6},{"s":"b","d":"2023-09-18","t":3.9},{"s":"b","d":"2023-09-19","t":12.9},{"s":"b","d":"2023-09-20","t":7},{"s":"b","d":"2023-09-21","t":12},{"s":"b","d":"2023-09-22","t":2.5},{"s":"b","d":"2023-09-23","t":10.5},{"s":"b","d":"2023-09-24","t":9.5},{"s":"b","d":"2023-09-25","t":10},{"s":"b","d":"2023-09-26","t":7},{"s":"b","d":"2023-09-27","t":6.5},{"s":"b","d":"2023-09-28","t":11},{"s":"b","d":"2023-09-29","t":12},{"s":"b","d":"2023-09-30","t":8.5},{"s":"b","d":"2023-10-01","t":10},{"s":"b","d":"2023-10-02","t":8},{"s":"b","d":"2023-10-03","t":9},{"s":"b","d":"2023-10-04","t":12},{"s":"b","d":"2023-10-05","t":7},{"s":"b","d":"2023-10-07","t":7},{"s":"b","d":"2023-10-08","t":8.5},{"s":"b","d":"2023-10-10","t":9},
      {"s":"l","d":"2023-09-10","t":10},{"s":"l","d":"2023-09-11","t":11.3},{"s":"l","d":"2023-09-12","t":12.1},{"s":"l","d":"2023-09-13","t":12.1},{"s":"l","d":"2023-09-14","t":11.8},{"s":"l","d":"2023-09-15","t":9.8},{"s":"l","d":"2023-09-16","t":9.8},{"s":"l","d":"2023-09-17","t":9},{"s":"l","d":"2023-09-18","t":9},{"s":"l","d":"2023-09-19","t":11.5},{"s":"l","d":"2023-09-20","t":11.5},{"s":"l","d":"2023-09-21","t":12.5},{"s":"l","d":"2023-09-22","t":12},{"s":"l","d":"2023-09-23","t":13.5},{"s":"l","d":"2023-09-24","t":13.5},{"s":"l","d":"2023-09-25","t":11.9},{"s":"l","d":"2023-09-26","t":12},{"s":"l","d":"2023-09-27","t":12.5},{"s":"l","d":"2023-09-28","t":11.5},{"s":"l","d":"2023-09-29","t":9.2},{"s":"l","d":"2023-09-30","t":12.8},{"s":"l","d":"2023-10-01","t":11.3},{"s":"l","d":"2023-10-04","t":11.3},{"s":"l","d":"2023-10-05","t":12},{"s":"l","d":"2023-10-06","t":13},{"s":"l","d":"2023-10-07","t":13},{"s":"l","d":"2023-10-08","t":12.7},{"s":"l","d":"2023-10-09","t":12.7},{"s":"l","d":"2023-10-10","t":12.1},
      {"s":"o","d":"2023-09-10","t":8},{"s":"o","d":"2023-09-11","t":9},{"s":"o","d":"2023-09-12","t":12.8},{"s":"o","d":"2023-09-13","t":9.2},{"s":"o","d":"2023-09-14","t":8},{"s":"o","d":"2023-09-17","t":8},{"s":"o","d":"2023-09-18","t":12},{"s":"o","d":"2023-09-19","t":12},{"s":"o","d":"2023-09-20","t":11.5},{"s":"o","d":"2023-09-21","t":12.5},{"s":"o","d":"2023-09-22","t":11.5},{"s":"o","d":"2023-09-23","t":11.5},{"s":"o","d":"2023-09-24","t":12.25},{"s":"o","d":"2023-09-26","t":12.25},{"s":"o","d":"2023-09-27","t":8},{"s":"o","d":"2023-09-28","t":9.5},{"s":"o","d":"2023-09-29","t":10.8},{"s":"o","d":"2023-09-30","t":8},{"s":"o","d":"2023-10-01","t":8},{"s":"o","d":"2023-10-02","t":11},{"s":"o","d":"2023-10-04","t":11},{"s":"o","d":"2023-10-05","t":10},{"s":"o","d":"2023-10-06","t":9},{"s":"o","d":"2023-10-07","t":10.3},{"s":"o","d":"2023-10-09","t":10.2},{"s":"o","d":"2023-10-10","t":12.2},
      {"s":"n","d":"2023-09-10","t":9},{"s":"n","d":"2023-09-11","t":11.5},{"s":"n","d":"2023-09-13","t":11.5},{"s":"n","d":"2023-09-14","t":8},{"s":"n","d":"2023-09-17","t":8},{"s":"n","d":"2023-09-18","t":11.5},{"s":"n","d":"2023-09-20","t":11.5},{"s":"n","d":"2023-09-21","t":9},{"s":"n","d":"2023-09-22","t":8},{"s":"n","d":"2023-09-23","t":8},{"s":"n","d":"2023-09-24","t":10},{"s":"n","d":"2023-09-25","t":8},{"s":"n","d":"2023-09-26","t":7},{"s":"n","d":"2023-09-27","t":10},{"s":"n","d":"2023-09-28","t":9.5},{"s":"n","d":"2023-09-30","t":9.5},{"s":"n","d":"2023-10-01","t":8},{"s":"n","d":"2023-10-02","t":10.8},{"s":"n","d":"2023-10-04","t":10.8},{"s":"n","d":"2023-10-05","t":8},{"s":"n","d":"2023-10-08","t":8},{"s":"n","d":"2023-10-09","t":10},{"s":"n","d":"2023-10-10","t":10},
      {"s":"a","d":"2023-09-10","t":8.8},{"s":"a","d":"2023-09-11","t":8.8},{"s":"a","d":"2023-09-12","t":7},{"s":"a","d":"2023-09-13","t":4.85},{"s":"a","d":"2023-09-14","t":4.85},{"s":"a","d":"2023-09-15","t":10.5},{"s":"a","d":"2023-10-01","t":10.5},{"s":"a","d":"2023-10-02","t":9},{"s":"a","d":"2023-10-03","t":10.5},{"s":"a","d":"2023-10-04","t":9.5},{"s":"a","d":"2023-10-05","t":9},{"s":"a","d":"2023-10-06","t":9.5},{"s":"a","d":"2023-10-07","t":8},{"s":"a","d":"2023-10-08","t":9.5},{"s":"a","d":"2023-10-10","t":9.5},
      {"s":"c","d":"2023-09-10","t":5.5},{"s":"c","d":"2023-09-11","t":6.5},{"s":"c","d":"2023-09-12","t":7.5},{"s":"c","d":"2023-09-13","t":5.75},{"s":"c","d":"2023-09-17","t":5.75},{"s":"c","d":"2023-09-18","t":8},{"s":"c","d":"2023-09-19","t":8},{"s":"c","d":"2023-09-20","t":7},{"s":"c","d":"2023-09-21","t":6.5},{"s":"c","d":"2023-09-22","t":6.5},{"s":"c","d":"2023-09-23","t":9},{"s":"c","d":"2023-09-24","t":5.5},{"s":"c","d":"2023-09-25","t":9.5},{"s":"c","d":"2023-09-26","t":9},{"s":"c","d":"2023-09-27","t":6},{"s":"c","d":"2023-09-28","t":5.5},{"s":"c","d":"2023-10-01","t":5.5},{"s":"c","d":"2023-10-02","t":10},{"s":"c","d":"2023-10-03","t":10},{"s":"c","d":"2023-10-04","t":6},{"s":"c","d":"2023-10-05","t":5.5},{"s":"c","d":"2023-10-07","t":5.5},{"s":"c","d":"2023-10-08","t":7},{"s":"c","d":"2023-10-10","t":7},
      {"s":"f","d":"2023-09-10","t":8.8},{"s":"f","d":"2023-09-11","t":8.8},{"s":"f","d":"2023-09-12","t":12},{"s":"f","d":"2023-09-13","t":7.3},{"s":"f","d":"2023-09-17","t":7.3},{"s":"f","d":"2023-09-18","t":11.7},{"s":"f","d":"2023-09-19","t":11.5},{"s":"f","d":"2023-09-20","t":9},{"s":"f","d":"2023-09-21","t":7.5},{"s":"f","d":"2023-09-22","t":7},{"s":"f","d":"2023-09-23","t":11.5},{"s":"f","d":"2023-09-24","t":7},{"s":"f","d":"2023-09-25","t":9},{"s":"f","d":"2023-09-26","t":13},{"s":"f","d":"2023-09-27","t":6.5},{"s":"f","d":"2023-09-29","t":6.5},{"s":"f","d":"2023-09-30","t":7},{"s":"f","d":"2023-10-01","t":7.3},{"s":"f","d":"2023-10-02","t":7.3},{"s":"f","d":"2023-10-03","t":11.5},{"s":"f","d":"2023-10-04","t":7.3},{"s":"f","d":"2023-10-07","t":7.3},{"s":"f","d":"2023-10-08","t":10.5},{"s":"f","d":"2023-10-09","t":10.5},{"s":"f","d":"2023-10-10","t":10.2},
      {"s":"g","d":"2023-09-10","t":7},{"s":"g","d":"2023-09-11","t":9},{"s":"g","d":"2023-09-12","t":11.5},{"s":"g","d":"2023-09-13","t":8},{"s":"g","d":"2023-09-14","t":8},{"s":"g","d":"2023-09-15","t":7.8},{"s":"g","d":"2023-09-16","t":7.6},{"s":"g","d":"2023-09-17","t":7.6},{"s":"g","d":"2023-09-18","t":10.2},{"s":"g","d":"2023-09-19","t":10.2},{"s":"g","d":"2023-09-20","t":9},{"s":"g","d":"2023-09-21","t":7.5},{"s":"g","d":"2023-09-22","t":5.5},{"s":"g","d":"2023-09-23","t":6},{"s":"g","d":"2023-09-24","t":9},{"s":"g","d":"2023-09-25","t":9.1},{"s":"g","d":"2023-09-26","t":9.1},{"s":"g","d":"2023-09-27","t":7.6},{"s":"g","d":"2023-09-29","t":7.6},{"s":"g","d":"2023-09-30","t":11},{"s":"g","d":"2023-10-05","t":11},{"s":"g","d":"2023-10-06","t":8},{"s":"g","d":"2023-10-07","t":8},{"s":"g","d":"2023-10-08","t":10.5},{"s":"g","d":"2023-10-09","t":10.4},{"s":"g","d":"2023-10-10","t":9.5},
      {"s":"j","d":"2023-09-10","t":6},{"s":"j","d":"2023-09-11","t":8},{"s":"j","d":"2023-09-12","t":10},{"s":"j","d":"2023-09-13","t":9},{"s":"j","d":"2023-09-14","t":7},{"s":"j","d":"2023-09-15","t":6},{"s":"j","d":"2023-09-16","t":9.5},{"s":"j","d":"2023-09-17","t":7},{"s":"j","d":"2023-09-18","t":6},{"s":"j","d":"2023-09-19","t":7},{"s":"j","d":"2023-09-20","t":8.5},{"s":"j","d":"2023-09-21","t":7},{"s":"j","d":"2023-09-22","t":6},{"s":"j","d":"2023-09-23","t":8.5},{"s":"j","d":"2023-09-24","t":8.5},{"s":"j","d":"2023-09-25","t":6},{"s":"j","d":"2023-09-26","t":9.5},{"s":"j","d":"2023-09-27","t":10.5},{"s":"j","d":"2023-09-29","t":10.5},{"s":"j","d":"2023-09-30","t":6},{"s":"j","d":"2023-10-01","t":7},{"s":"j","d":"2023-10-02","t":12},{"s":"j","d":"2023-10-03","t":11.8},{"s":"j","d":"2023-10-04","t":12.5},{"s":"j","d":"2023-10-05","t":12},{"s":"j","d":"2023-10-06","t":11.8},{"s":"j","d":"2023-10-07","t":11.8},{"s":"j","d":"2023-10-08","t":12.7},{"s":"j","d":"2023-10-09","t":9},{"s":"j","d":"2023-10-10","t":8.5},
      {"s":"j2","d":"2023-09-10","t":7},{"s":"j2","d":"2023-10-01","t":7},
      {"s":"i","d":"2023-09-10","t":6},{"s":"i","d":"2023-09-11","t":7.5},{"s":"i","d":"2023-09-12","t":7},{"s":"i","d":"2023-09-13","t":7},{"s":"i","d":"2023-09-14","t":6},{"s":"i","d":"2023-09-18","t":6},{"s":"i","d":"2023-09-19","t":7.5},{"s":"i","d":"2023-09-20","t":7},{"s":"i","d":"2023-09-21","t":6},{"s":"i","d":"2023-09-24","t":6},{"s":"i","d":"2023-09-25","t":7},{"s":"i","d":"2023-09-26","t":6.5},{"s":"i","d":"2023-09-27","t":6},{"s":"i","d":"2023-09-30","t":6},{"s":"i","d":"2023-10-01","t":8},{"s":"i","d":"2023-10-02","t":9.5},{"s":"i","d":"2023-10-03","t":8},{"s":"i","d":"2023-10-04","t":7},{"s":"i","d":"2023-10-05","t":6},{"s":"i","d":"2023-10-08","t":6},{"s":"i","d":"2023-10-09","t":9},{"s":"i","d":"2023-10-10","t":8.8},
      {"s":"d","d":"2023-09-10","t":6.5},{"s":"d","d":"2023-09-11","t":6.2},{"s":"d","d":"2023-09-12","t":10},{"s":"d","d":"2023-09-13","t":6},{"s":"d","d":"2023-09-17","t":6},{"s":"d","d":"2023-09-18","t":11.6},{"s":"d","d":"2023-09-19","t":11.4},{"s":"d","d":"2023-09-20","t":12.2},{"s":"d","d":"2023-09-21","t":7},{"s":"d","d":"2023-09-22","t":6.5},{"s":"d","d":"2023-09-23","t":10.5},{"s":"d","d":"2023-09-24","t":8.5},{"s":"d","d":"2023-09-25","t":9},{"s":"d","d":"2023-09-26","t":9},{"s":"d","d":"2023-09-27","t":6.5},{"s":"d","d":"2023-09-28","t":6},{"s":"d","d":"2023-10-01","t":6},{"s":"d","d":"2023-10-02","t":9.7},{"s":"d","d":"2023-10-03","t":9.5},{"s":"d","d":"2023-10-04","t":6},{"s":"d","d":"2023-10-07","t":6},{"s":"d","d":"2023-10-08","t":8.5},{"s":"d","d":"2023-10-10","t":8.5},
      {"s":"m","d":"2023-09-10","t":8.5},{"s":"m","d":"2023-09-11","t":11.5},{"s":"m","d":"2023-09-12","t":11.5},{"s":"m","d":"2023-09-13","t":8.5},{"s":"m","d":"2023-09-14","t":8},{"s":"m","d":"2023-09-15","t":8.5},{"s":"m","d":"2023-09-17","t":8.5},{"s":"m","d":"2023-09-18","t":11.5},{"s":"m","d":"2023-09-19","t":11.5},{"s":"m","d":"2023-09-20","t":10},{"s":"m","d":"2023-09-21","t":8},{"s":"m","d":"2023-09-22","t":8},{"s":"m","d":"2023-09-23","t":10},{"s":"m","d":"2023-09-24","t":8.5},{"s":"m","d":"2023-09-25","t":9.5},{"s":"m","d":"2023-09-29","t":9.5},{"s":"m","d":"2023-09-30","t":8},{"s":"m","d":"2023-10-01","t":10},{"s":"m","d":"2023-10-02","t":11.5},{"s":"m","d":"2023-10-04","t":11.5},{"s":"m","d":"2023-10-05","t":9.5},{"s":"m","d":"2023-10-06","t":8.8},{"s":"m","d":"2023-10-07","t":8},{"s":"m","d":"2023-10-08","t":8},{"s":"m","d":"2023-10-09","t":10},{"s":"m","d":"2023-10-10","t":11.2}
    ],
    "mi": [
      {"s":"o","d":"2023-09-10","t":11},{"s":"o","d":"2023-09-11","t":12},{"s":"o","d":"2023-09-12","t":8},{"s":"o","d":"2023-09-13","t":11},{"s":"o","d":"2023-09-14","t":9.5},{"s":"o","d":"2023-09-15","t":9},{"s":"o","d":"2023-09-17","t":9},{"s":"o","d":"2023-09-18","t":9.5},{"s":"o","d":"2023-09-19","t":8},{"s":"o","d":"2023-09-20","t":8},{"s":"o","d":"2023-09-21","t":10.5},{"s":"o","d":"2023-09-22","t":10.5},{"s":"o","d":"2023-09-23","t":10},{"s":"o","d":"2023-09-24","t":10},{"s":"o","d":"2023-09-25","t":7},{"s":"o","d":"2023-09-26","t":10},{"s":"o","d":"2023-09-27","t":10},{"s":"o","d":"2023-09-28","t":9.7},{"s":"o","d":"2023-09-29","t":9.5},{"s":"o","d":"2023-09-30","t":10.5},{"s":"o","d":"2023-10-08","t":10.5},{"s":"o","d":"2023-10-09","t":10.65},{"s":"o","d":"2023-10-10","t":10.65},
      {"s":"b","d":"2023-09-10","t":8.5},{"s":"b","d":"2023-09-11","t":9},{"s":"b","d":"2023-09-12","t":10.5},{"s":"b","d":"2023-09-13","t":7.5},{"s":"b","d":"2023-09-14","t":6},{"s":"b","d":"2023-09-15","t":7},{"s":"b","d":"2023-09-16","t":6.5},{"s":"b","d":"2023-09-17","t":7.5},{"s":"b","d":"2023-09-18","t":8},{"s":"b","d":"2023-09-20","t":8},{"s":"b","d":"2023-09-21","t":9},{"s":"b","d":"2023-09-22","t":9.5},{"s":"b","d":"2023-09-23","t":11},{"s":"b","d":"2023-09-24","t":10},{"s":"b","d":"2023-09-25","t":7},{"s":"b","d":"2023-09-26","t":12},{"s":"b","d":"2023-09-27","t":8},{"s":"b","d":"2023-09-28","t":6.5},{"s":"b","d":"2023-09-29","t":8.5},{"s":"b","d":"2023-09-30","t":9},{"s":"b","d":"2023-10-01","t":8},{"s":"b","d":"2023-10-02","t":9.5},{"s":"b","d":"2023-10-03","t":9.5},{"s":"b","d":"2023-10-04","t":9},{"s":"b","d":"2023-10-05","t":6.5},{"s":"b","d":"2023-10-06","t":9},{"s":"b","d":"2023-10-08","t":8.8},{"s":"b","d":"2023-10-09","t":11},{"s":"b","d":"2023-10-10","t":9.7},
      {"s":"c","d":"2023-09-10","t":8.5},{"s":"c","d":"2023-09-11","t":5.3},{"s":"c","d":"2023-09-12","t":5.1},{"s":"c","d":"2023-09-13","t":5.3},{"s":"c","d":"2023-09-21","t":5.3},{"s":"c","d":"2023-09-22","t":5.5},{"s":"c","d":"2023-09-23","t":5.5},{"s":"c","d":"2023-09-24","t":5.3},{"s":"c","d":"2023-09-29","t":5.3},{"s":"c","d":"2023-09-30","t":5.5},{"s":"c","d":"2023-10-01","t":5.3},{"s":"c","d":"2023-10-02","t":5},{"s":"c","d":"2023-10-03","t":5.3},
      {"s":"d","d":"2023-09-10","t":8.8},{"s":"d","d":"2023-09-11","t":8.5},{"s":"d","d":"2023-09-12","t":10.3},{"s":"d","d":"2023-09-13","t":10.3},{"s":"d","d":"2023-09-14","t":9},{"s":"d","d":"2023-09-15","t":9},{"s":"d","d":"2023-09-16","t":9.5},{"s":"d","d":"2023-09-17","t":10.8},{"s":"d","d":"2023-09-18","t":8},{"s":"d","d":"2023-09-19","t":7},{"s":"d","d":"2023-09-20","t":10},{"s":"d","d":"2023-09-21","t":9.6},{"s":"d","d":"2023-09-22","t":9.6},{"s":"d","d":"2023-09-23","t":10.5},{"s":"d","d":"2023-09-24","t":9.8},{"s":"d","d":"2023-09-25","t":9.5},{"s":"d","d":"2023-09-26","t":10},{"s":"d","d":"2023-09-28","t":10},{"s":"d","d":"2023-09-29","t":10.1},{"s":"d","d":"2023-09-30","t":10.3},{"s":"d","d":"2023-10-04","t":10.3},{"s":"d","d":"2023-10-05","t":6},{"s":"d","d":"2023-10-06","t":8.5},{"s":"d","d":"2023-10-07","t":9},{"s":"d","d":"2023-10-08","t":10.3},{"s":"d","d":"2023-10-09","t":9.5},{"s":"d","d":"2023-10-10","t":5.2},
      {"s":"f","d":"2023-09-10","t":5.8},{"s":"f","d":"2023-09-11","t":8.6},{"s":"f","d":"2023-09-12","t":8.8},{"s":"f","d":"2023-09-13","t":5.8},{"s":"f","d":"2023-09-14","t":5.8},{"s":"f","d":"2023-09-15","t":6},{"s":"f","d":"2023-09-16","t":5.8},{"s":"f","d":"2023-09-17","t":5.6},{"s":"f","d":"2023-09-18","t":5.6},{"s":"f","d":"2023-09-19","t":9.5},{"s":"f","d":"2023-09-24","t":9.5},{"s":"f","d":"2023-09-25","t":10},{"s":"f","d":"2023-09-26","t":10},{"s":"f","d":"2023-09-27","t":6},{"s":"f","d":"2023-09-28","t":6},{"s":"f","d":"2023-09-29","t":6.2},{"s":"f","d":"2023-09-30","t":9},{"s":"f","d":"2023-10-03","t":9},{"s":"f","d":"2023-10-04","t":8},{"s":"f","d":"2023-10-05","t":6.8},{"s":"f","d":"2023-10-09","t":6.8},{"s":"f","d":"2023-10-10","t":7},
      {"s":"g","d":"2023-09-10","t":9.5},{"s":"g","d":"2023-09-11","t":7.5},{"s":"g","d":"2023-09-12","t":8.5},{"s":"g","d":"2023-09-13","t":5.1},{"s":"g","d":"2023-09-15","t":5.1},{"s":"g","d":"2023-09-16","t":9},{"s":"g","d":"2023-09-17","t":11.5},{"s":"g","d":"2023-09-18","t":11.5},{"s":"g","d":"2023-09-19","t":8},{"s":"g","d":"2023-09-20","t":7},{"s":"g","d":"2023-09-21","t":10},{"s":"g","d":"2023-09-22","t":7.5},{"s":"g","d":"2023-09-23","t":10.5},{"s":"g","d":"2023-09-24","t":8},{"s":"g","d":"2023-09-25","t":5.3},{"s":"g","d":"2023-09-26","t":9.5},{"s":"g","d":"2023-09-27","t":10},{"s":"g","d":"2023-09-28","t":5},{"s":"g","d":"2023-09-30","t":5},{"s":"g","d":"2023-10-01","t":5.1},{"s":"g","d":"2023-10-02","t":5.1},{"s":"g","d":"2023-10-03","t":8},{"s":"g","d":"2023-10-04","t":10},{"s":"g","d":"2023-10-05","t":5},{"s":"g","d":"2023-10-06","t":5.1},{"s":"g","d":"2023-10-08","t":5.1},{"s":"g","d":"2023-10-09","t":8},{"s":"g","d":"2023-10-10","t":7.5},
      {"s":"h","d":"2023-09-10","t":5.1},{"s":"h","d":"2023-09-11","t":8.8},{"s":"h","d":"2023-09-12","t":4.25},{"s":"h","d":"2023-09-13","t":5.2},{"s":"h","d":"2023-09-14","t":4.25},{"s":"h","d":"2023-09-19","t":4.25},{"s":"h","d":"2023-09-20","t":8},{"s":"h","d":"2023-09-21","t":9.5},{"s":"h","d":"2023-09-22","t":5},{"s":"h","d":"2023-09-23","t":5},{"s":"h","d":"2023-09-24","t":4.25},{"s":"h","d":"2023-09-26","t":4.25},{"s":"h","d":"2023-09-27","t":5},{"s":"h","d":"2023-09-30","t":5},{"s":"h","d":"2023-10-01","t":4.2},{"s":"h","d":"2023-10-10","t":4.2},
      {"s":"j","d":"2023-09-10","t":7.2},{"s":"j","d":"2023-09-11","t":1.3},{"s":"j","d":"2023-09-12","t":9.9},{"s":"j","d":"2023-09-13","t":9},{"s":"j","d":"2023-09-15","t":9},{"s":"j","d":"2023-09-16","t":3.5},{"s":"j","d":"2023-09-19","t":3.5},{"s":"j","d":"2023-09-20","t":11},{"s":"j","d":"2023-09-21","t":10.7},{"s":"j","d":"2023-09-22","t":7.5},{"s":"j","d":"2023-09-23","t":0.8},{"s":"j","d":"2023-09-24","t":7.4},{"s":"j","d":"2023-10-04","t":7.5},{"s":"j","d":"2023-10-05","t":10.5},{"s":"j","d":"2023-10-06","t":10},{"s":"j","d":"2023-10-07","t":8},{"s":"j","d":"2023-10-08","t":3.5},{"s":"j","d":"2023-10-09","t":3.5},{"s":"j","d":"2023-10-10","t":8.5},
      {"s":"j2","d":"2023-09-10","t":7},{"s":"j2","d":"2023-09-11","t":8.5},{"s":"j2","d":"2023-09-12","t":7.5},{"s":"j2","d":"2023-09-14","t":7.5},{"s":"j2","d":"2023-09-15","t":6.5},{"s":"j2","d":"2023-09-16","t":7},{"s":"j2","d":"2023-09-17","t":7.5},{"s":"j2","d":"2023-09-18","t":7.8},{"s":"j2","d":"2023-09-19","t":8.5},{"s":"j2","d":"2023-09-20","t":7.5},{"s":"j2","d":"2023-10-08","t":7.5},{"s":"j2","d":"2023-10-09","t":7.3},{"s":"j2","d":"2023-10-10","t":8},
      {"s":"i","d":"2023-09-10","t":7.5},{"s":"i","d":"2023-09-11","t":10},{"s":"i","d":"2023-09-12","t":8},{"s":"i","d":"2023-09-13","t":8.3},{"s":"i","d":"2023-09-19","t":8.3},{"s":"i","d":"2023-09-20","t":9.5},{"s":"i","d":"2023-09-21","t":8},{"s":"i","d":"2023-09-22","t":6.5},{"s":"i","d":"2023-09-23","t":6.5},{"s":"i","d":"2023-09-24","t":7.5},{"s":"i","d":"2023-09-25","t":8},{"s":"i","d":"2023-09-26","t":8.7},{"s":"i","d":"2023-09-27","t":8.7},{"s":"i","d":"2023-09-28","t":9},{"s":"i","d":"2023-09-29","t":9},{"s":"i","d":"2023-09-30","t":8},{"s":"i","d":"2023-10-02","t":8},{"s":"i","d":"2023-10-03","t":7.5},{"s":"i","d":"2023-10-04","t":10},{"s":"i","d":"2023-10-05","t":7},{"s":"i","d":"2023-10-06","t":6.8},{"s":"i","d":"2023-10-07","t":7.5},{"s":"i","d":"2023-10-08","t":7.5},{"s":"i","d":"2023-10-09","t":6},{"s":"i","d":"2023-10-10","t":7.5},
      {"s":"l","d":"2023-09-10","t":6.5},{"s":"l","d":"2023-09-11","t":10.5},{"s":"l","d":"2023-09-12","t":9},{"s":"l","d":"2023-09-13","t":8.8},{"s":"l","d":"2023-09-14","t":8},{"s":"l","d":"2023-09-15","t":7.7},{"s":"l","d":"2023-09-16","t":7.7},{"s":"l","d":"2023-09-17","t":8.5},{"s":"l","d":"2023-09-18","t":8.5},{"s":"l","d":"2023-09-19","t":9},{"s":"l","d":"2023-09-20","t":8},{"s":"l","d":"2023-09-21","t":7},{"s":"l","d":"2023-09-22","t":8.8},{"s":"l","d":"2023-09-23","t":9},{"s":"l","d":"2023-09-24","t":9.7},{"s":"l","d":"2023-09-25","t":9.7},{"s":"l","d":"2023-09-26","t":9.5},{"s":"l","d":"2023-09-27","t":8.5},{"s":"l","d":"2023-09-28","t":7},{"s":"l","d":"2023-09-29","t":9.3},{"s":"l","d":"2023-09-30","t":9.3},
      {"s":"l2","d":"2023-10-02","t":8.5},{"s":"l2","d":"2023-10-03","t":11.3},{"s":"l2","d":"2023-10-04","t":8.2},{"s":"l2","d":"2023-10-05","t":6.8},{"s":"l2","d":"2023-10-06","t":6.6},{"s":"l2","d":"2023-10-07","t":6.4},{"s":"l2","d":"2023-10-08","t":6.3},{"s":"l2","d":"2023-10-09","t":7.6},{"s":"l2","d":"2023-10-10","t":7.6},
      {"s":"m","d":"2023-09-10","t":7},{"s":"m","d":"2023-09-11","t":8.5},{"s":"m","d":"2023-09-13","t":8.5},{"s":"m","d":"2023-09-14","t":6.3},{"s":"m","d":"2023-09-17","t":6.3},{"s":"m","d":"2023-09-18","t":8.5},{"s":"m","d":"2023-09-19","t":8.5},{"s":"m","d":"2023-09-20","t":9.3},{"s":"m","d":"2023-09-21","t":9.3},{"s":"m","d":"2023-09-22","t":6.5},{"s":"m","d":"2023-09-25","t":6.5},{"s":"m","d":"2023-09-26","t":6},{"s":"m","d":"2023-09-27","t":6},{"s":"m","d":"2023-09-28","t":6.3},{"s":"m","d":"2023-09-29","t":6.6},{"s":"m","d":"2023-09-30","t":6.6},{"s":"m","d":"2023-10-01","t":6.5},{"s":"m","d":"2023-10-02","t":8},{"s":"m","d":"2023-10-08","t":8},{"s":"m","d":"2023-10-09","t":7.8},{"s":"m","d":"2023-10-10","t":7.8},
      {"s":"n","d":"2023-09-10","t":5.5},{"s":"n","d":"2023-09-11","t":8.5},{"s":"n","d":"2023-09-13","t":8.5},{"s":"n","d":"2023-09-14","t":6},{"s":"n","d":"2023-09-18","t":6},{"s":"n","d":"2023-09-19","t":9},{"s":"n","d":"2023-09-20","t":9.5},{"s":"n","d":"2023-09-21","t":6.2},{"s":"n","d":"2023-09-23","t":6.2},{"s":"n","d":"2023-09-24","t":7.3},{"s":"n","d":"2023-09-27","t":7.3},{"s":"n","d":"2023-09-28","t":6},{"s":"n","d":"2023-10-01","t":6},{"s":"n","d":"2023-10-02","t":8},{"s":"n","d":"2023-10-03","t":6.2},{"s":"n","d":"2023-10-08","t":6.2},{"s":"n","d":"2023-10-09","t":8.5},{"s":"n","d":"2023-10-10","t":8.5},
      {"s":"a","d":"2023-09-10","t":6.2},{"s":"a","d":"2023-09-11","t":8.5},{"s":"a","d":"2023-09-12","t":8},{"s":"a","d":"2023-09-13","t":7.8},{"s":"a","d":"2023-09-14","t":6.5},{"s":"a","d":"2023-09-15","t":6.2},{"s":"a","d":"2023-09-16","t":6.5},{"s":"a","d":"2023-09-17","t":6.5},{"s":"a","d":"2023-09-18","t":7},{"s":"a","d":"2023-09-19","t":8},{"s":"a","d":"2023-09-23","t":8},{"s":"a","d":"2023-09-24","t":7.2},{"s":"a","d":"2023-09-25","t":8},{"s":"a","d":"2023-09-26","t":8},{"s":"a","d":"2023-09-27","t":7},{"s":"a","d":"2023-09-29","t":7},{"s":"a","d":"2023-09-30","t":6.5},{"s":"a","d":"2023-10-01","t":6.5},{"s":"a","d":"2023-10-02","t":8.5},{"s":"a","d":"2023-10-04","t":8.5},{"s":"a","d":"2023-10-05","t":6.5},{"s":"a","d":"2023-10-08","t":6.5},{"s":"a","d":"2023-10-09","t":6.3},{"s":"a","d":"2023-10-10","t":7.8}
    ]
  },
  "columns": 3,
  "bounds": "flush",
  "spacing": {"row": 416, "column": 292},
  "concat": [
    {
      "width": 1090, "height": 889,
      "title": {"text": ["Women", "Regular (CPD < 0.5 h)"]},
      "encoding": {"x": {"field": "d", "type": "temporal", "title": null, "scale": {"type": "utc", "domain": [1694174400000, 1697025600000]}, "axis": {"values": [1694390400000, 1694692800000, 1694995200000, 1695297600000, 1695600000000, 1695902400000, 1696204800000, 1696507200000, 1696809600000], "labelExpr": "utchours(datum.value) == 12 ? '' : utcFormat(datum.value, '%b %d')", "gridWidth": {"condition": {"test": "utchours(datum.value) == 12", "value": 1.5}, "value": 2.5}, "tickOpacity": {"condition": {"test": "utchours(datum.value) == 12", "value": 0}, "value": 1}}}},
      "layer": [
        {"data": {"name": "weeks"}, "mark": {"type": "rule", "color": "#BEBEBE", "strokeWidth": 4.5, "strokeDash": [26, 19]}, "encoding": {}},
        {"data": {"name": "wr"}, "mark": {"type": "line", "strokeWidth": 5.5}, "encoding": {
          "y": {"field": "t", "type": "quantitative", "title": "Breakfast time", "scale": {"domain": [-0.8, 16.8], "nice": false, "zero": false}, "axis": {"values": [0, 2.5, 5, 7.5, 10, 12.5, 15], "labelExpr": "datum.value % 5 ? '' : (datum.value < 10 ? '0' : '') + datum.value + ':00'", "gridWidth": {"condition": {"test": "datum.value % 5", "value": 1.5}, "value": 2.5}, "tickOpacity": {"condition": {"test": "datum.value % 5", "value": 0}, "value": 1}}},
          "color": {"field": "s", "type": "nominal", "legend": null, "scale": {"domain": ["a","b","c","d","e","f","g","h","i","j","k","l","m","n","o","b2","d2","f2","i2","j2","l2","n2","o2"], "range": ["#F8766D","#E58700","#C99800","#A3A500","#6BB100","#00BA38","#00BF7D","#00C0AF","#00BCD8","#00B0F6","#619CFF","#B983FF","#E76BF3","#FD61D1","#FF67A4","#E58700","#A3A500","#00BA38","#00BCD8","#00B0F6","#B983FF","#FD61D1","#FF67A4"]}}
        }}
      ]
    },
    {
      "width": 1090, "height": 889,
      "title": {"text": ["Women", "Slightly irregular (0.5 =< CPD < 1 h)"]},
      "encoding": {"x": {"field": "d", "type": "temporal", "title": null, "scale": {"type": "utc", "domain": [1694174400000, 1697025600000]}, "axis": {"values": [1694390400000, 1694692800000, 1694995200000, 1695297600000, 1695600000000, 1695902400000, 1696204800000, 1696507200000, 1696809600000], "labelExpr": "utchours(datum.value) == 12 ? '' : utcFormat(datum.value, '%b %d')", "gridWidth": {"condition": {"test": "utchours(datum.value) == 12", "value": 1.5}, "value": 2.5}, "tickOpacity": {"condition": {"test": "utchours(datum.value) == 12", "value": 0}, "value": 1}}}},
      "layer": [
        {"data": {"name": "weeks"}, "mark": {"type": "rule", "color": "#BEBEBE", "strokeWidth": 4.5, "strokeDash": [26, 19]}, "encoding": {}},
        {"data": {"name": "ws"}, "mark": {"type": "line", "strokeWidth": 5.5}, "encoding": {
          "y": {"field": "t", "type": "quantitative", "title": null, "scale": {"domain": [-0.8, 16.8], "nice": false, "zero": false}, "axis": {"values": [0, 2.5, 5, 7.5, 10, 12.5, 15], "labelExpr": "datum.value % 5 ? '' : (datum.value < 10 ? '0' : '') + datum.value + ':00'", "gridWidth": {"condition": {"test": "datum.value % 5", "value": 1.5}, "value": 2.5}, "tickOpacity": {"condition": {"test": "datum.value % 5", "value": 0}, "value": 1}}},
          "color": {"field": "s", "type": "nominal", "legend": null, "scale": {"domain": ["a","b","c","d","e","f","g","h","i","j","k","l","m","n","o","b2","d2","f2","i2","j2","l2","n2","o2"], "range": ["#F8766D","#E58700","#C99800","#A3A500","#6BB100","#00BA38","#00BF7D","#00C0AF","#00BCD8","#00B0F6","#619CFF","#B983FF","#E76BF3","#FD61D1","#FF67A4","#E58700","#A3A500","#00BA38","#00BCD8","#00B0F6","#B983FF","#FD61D1","#FF67A4"]}}
        }}
      ]
    },
    {
      "width": 1090, "height": 889,
      "title": {"text": ["Women", "Irregular (1 h =< CPD)"]},
      "encoding": {"x": {"field": "d", "type": "temporal", "title": null, "scale": {"type": "utc", "domain": [1694174400000, 1697025600000]}, "axis": {"values": [1694390400000, 1694692800000, 1694995200000, 1695297600000, 1695600000000, 1695902400000, 1696204800000, 1696507200000, 1696809600000], "labelExpr": "utchours(datum.value) == 12 ? '' : utcFormat(datum.value, '%b %d')", "gridWidth": {"condition": {"test": "utchours(datum.value) == 12", "value": 1.5}, "value": 2.5}, "tickOpacity": {"condition": {"test": "utchours(datum.value) == 12", "value": 0}, "value": 1}}}},
      "layer": [
        {"data": {"name": "weeks"}, "mark": {"type": "rule", "color": "#BEBEBE", "strokeWidth": 4.5, "strokeDash": [26, 19]}, "encoding": {}},
        {"data": {"name": "wi"}, "mark": {"type": "line", "strokeWidth": 5.5}, "encoding": {
          "y": {"field": "t", "type": "quantitative", "title": null, "scale": {"domain": [-0.8, 16.8], "nice": false, "zero": false}, "axis": {"values": [0, 2.5, 5, 7.5, 10, 12.5, 15], "labelExpr": "datum.value % 5 ? '' : (datum.value < 10 ? '0' : '') + datum.value + ':00'", "gridWidth": {"condition": {"test": "datum.value % 5", "value": 1.5}, "value": 2.5}, "tickOpacity": {"condition": {"test": "datum.value % 5", "value": 0}, "value": 1}}},
          "color": {"field": "s", "type": "nominal", "legend": null, "scale": {"domain": ["a","b","c","d","e","f","g","h","i","j","k","l","m","n","o","b2","d2","f2","i2","j2","l2","n2","o2"], "range": ["#F8766D","#E58700","#C99800","#A3A500","#6BB100","#00BA38","#00BF7D","#00C0AF","#00BCD8","#00B0F6","#619CFF","#B983FF","#E76BF3","#FD61D1","#FF67A4","#E58700","#A3A500","#00BA38","#00BCD8","#00B0F6","#B983FF","#FD61D1","#FF67A4"]}}
        }}
      ]
    },
    {
      "width": 1090, "height": 880,
      "title": {"text": ["Men", "Regular (CPD < 0.5 h)"]},
      "encoding": {"x": {"field": "d", "type": "temporal", "title": "Date", "scale": {"type": "utc", "domain": [1694174400000, 1697025600000]}, "axis": {"values": [1694390400000, 1694692800000, 1694995200000, 1695297600000, 1695600000000, 1695902400000, 1696204800000, 1696507200000, 1696809600000], "labelExpr": "utchours(datum.value) == 12 ? '' : utcFormat(datum.value, '%b %d')", "gridWidth": {"condition": {"test": "utchours(datum.value) == 12", "value": 1.5}, "value": 2.5}, "tickOpacity": {"condition": {"test": "utchours(datum.value) == 12", "value": 0}, "value": 1}}}},
      "layer": [
        {"data": {"name": "weeks"}, "mark": {"type": "rule", "color": "#BEBEBE", "strokeWidth": 4.5, "strokeDash": [26, 19]}, "encoding": {}},
        {"data": {"name": "mr"}, "mark": {"type": "line", "strokeWidth": 5.5}, "encoding": {
          "y": {"field": "t", "type": "quantitative", "title": "Breakfast time", "scale": {"domain": [-0.8, 16.8], "nice": false, "zero": false}, "axis": {"values": [0, 2.5, 5, 7.5, 10, 12.5, 15], "labelExpr": "datum.value % 5 ? '' : (datum.value < 10 ? '0' : '') + datum.value + ':00'", "gridWidth": {"condition": {"test": "datum.value % 5", "value": 1.5}, "value": 2.5}, "tickOpacity": {"condition": {"test": "datum.value % 5", "value": 0}, "value": 1}}},
          "color": {"field": "s", "type": "nominal", "legend": null, "scale": {"domain": ["a","b","c","d","e","f","g","h","i","j","k","l","m","n","o","b2","d2","f2","i2","j2","l2","n2","o2"], "range": ["#F8766D","#E58700","#C99800","#A3A500","#6BB100","#00BA38","#00BF7D","#00C0AF","#00BCD8","#00B0F6","#619CFF","#B983FF","#E76BF3","#FD61D1","#FF67A4","#E58700","#A3A500","#00BA38","#00BCD8","#00B0F6","#B983FF","#FD61D1","#FF67A4"]}}
        }}
      ]
    },
    {
      "width": 1090, "height": 880,
      "title": {"text": ["Men", "Slightly irregular (0.5 =< CPD < 1 h)"]},
      "encoding": {"x": {"field": "d", "type": "temporal", "title": "Date", "scale": {"type": "utc", "domain": [1694174400000, 1697025600000]}, "axis": {"values": [1694390400000, 1694692800000, 1694995200000, 1695297600000, 1695600000000, 1695902400000, 1696204800000, 1696507200000, 1696809600000], "labelExpr": "utchours(datum.value) == 12 ? '' : utcFormat(datum.value, '%b %d')", "gridWidth": {"condition": {"test": "utchours(datum.value) == 12", "value": 1.5}, "value": 2.5}, "tickOpacity": {"condition": {"test": "utchours(datum.value) == 12", "value": 0}, "value": 1}}}},
      "layer": [
        {"data": {"name": "weeks"}, "mark": {"type": "rule", "color": "#BEBEBE", "strokeWidth": 4.5, "strokeDash": [26, 19]}, "encoding": {}},
        {"data": {"name": "ms"}, "mark": {"type": "line", "strokeWidth": 5.5}, "encoding": {
          "y": {"field": "t", "type": "quantitative", "title": null, "scale": {"domain": [-0.8, 16.8], "nice": false, "zero": false}, "axis": {"values": [0, 2.5, 5, 7.5, 10, 12.5, 15], "labelExpr": "datum.value % 5 ? '' : (datum.value < 10 ? '0' : '') + datum.value + ':00'", "gridWidth": {"condition": {"test": "datum.value % 5", "value": 1.5}, "value": 2.5}, "tickOpacity": {"condition": {"test": "datum.value % 5", "value": 0}, "value": 1}}},
          "color": {"field": "s", "type": "nominal", "legend": null, "scale": {"domain": ["a","b","c","d","e","f","g","h","i","j","k","l","m","n","o","b2","d2","f2","i2","j2","l2","n2","o2"], "range": ["#F8766D","#E58700","#C99800","#A3A500","#6BB100","#00BA38","#00BF7D","#00C0AF","#00BCD8","#00B0F6","#619CFF","#B983FF","#E76BF3","#FD61D1","#FF67A4","#E58700","#A3A500","#00BA38","#00BCD8","#00B0F6","#B983FF","#FD61D1","#FF67A4"]}}
        }}
      ]
    },
    {
      "width": 1090, "height": 880,
      "title": {"text": ["Men", "Irregular (1 h =< CPD)"]},
      "encoding": {"x": {"field": "d", "type": "temporal", "title": "Date", "scale": {"type": "utc", "domain": [1694174400000, 1697025600000]}, "axis": {"values": [1694390400000, 1694692800000, 1694995200000, 1695297600000, 1695600000000, 1695902400000, 1696204800000, 1696507200000, 1696809600000], "labelExpr": "utchours(datum.value) == 12 ? '' : utcFormat(datum.value, '%b %d')", "gridWidth": {"condition": {"test": "utchours(datum.value) == 12", "value": 1.5}, "value": 2.5}, "tickOpacity": {"condition": {"test": "utchours(datum.value) == 12", "value": 0}, "value": 1}}}},
      "layer": [
        {"data": {"name": "weeks"}, "mark": {"type": "rule", "color": "#BEBEBE", "strokeWidth": 4.5, "strokeDash": [26, 19]}, "encoding": {}},
        {"data": {"name": "mi"}, "mark": {"type": "line", "strokeWidth": 5.5}, "encoding": {
          "y": {"field": "t", "type": "quantitative", "title": null, "scale": {"domain": [-0.8, 16.8], "nice": false, "zero": false}, "axis": {"values": [0, 2.5, 5, 7.5, 10, 12.5, 15], "labelExpr": "datum.value % 5 ? '' : (datum.value < 10 ? '0' : '') + datum.value + ':00'", "gridWidth": {"condition": {"test": "datum.value % 5", "value": 1.5}, "value": 2.5}, "tickOpacity": {"condition": {"test": "datum.value % 5", "value": 0}, "value": 1}}},
          "color": {"field": "s", "type": "nominal", "legend": null, "scale": {"domain": ["a","b","c","d","e","f","g","h","i","j","k","l","m","n","o","b2","d2","f2","i2","j2","l2","n2","o2"], "range": ["#F8766D","#E58700","#C99800","#A3A500","#6BB100","#00BA38","#00BF7D","#00C0AF","#00BCD8","#00B0F6","#619CFF","#B983FF","#E76BF3","#FD61D1","#FF67A4","#E58700","#A3A500","#00BA38","#00BCD8","#00B0F6","#B983FF","#FD61D1","#FF67A4"]}}
        }}
      ]
    }
  ],
  "config": {
    "font": "Liberation Sans",
    "view": {"stroke": "#B3B3B3", "strokeWidth": 3},
    "title": {"anchor": "start", "frame": "group", "fontSize": 65, "fontWeight": "normal", "color": "#000000", "lineHeight": 72, "offset": 26},
    "axis": {"domain": false, "labelFontSize": 55, "labelColor": "#4D4D4D", "labelLimit": 0, "titleFontSize": 69, "titleFontWeight": "bold", "titleColor": "#000000", "tickColor": "#B3B3B3", "tickSize": 15, "tickWidth": 2.5, "gridColor": "#E6E6E6", "labelFlush": false, "labelOverlap": false},
    "axisX": {"labelAngle": -25, "labelAlign": "right", "labelBaseline": "top", "labelPadding": 8, "titlePadding": 0},
    "axisY": {"labelPadding": 14, "titlePadding": 12}
  }
}
